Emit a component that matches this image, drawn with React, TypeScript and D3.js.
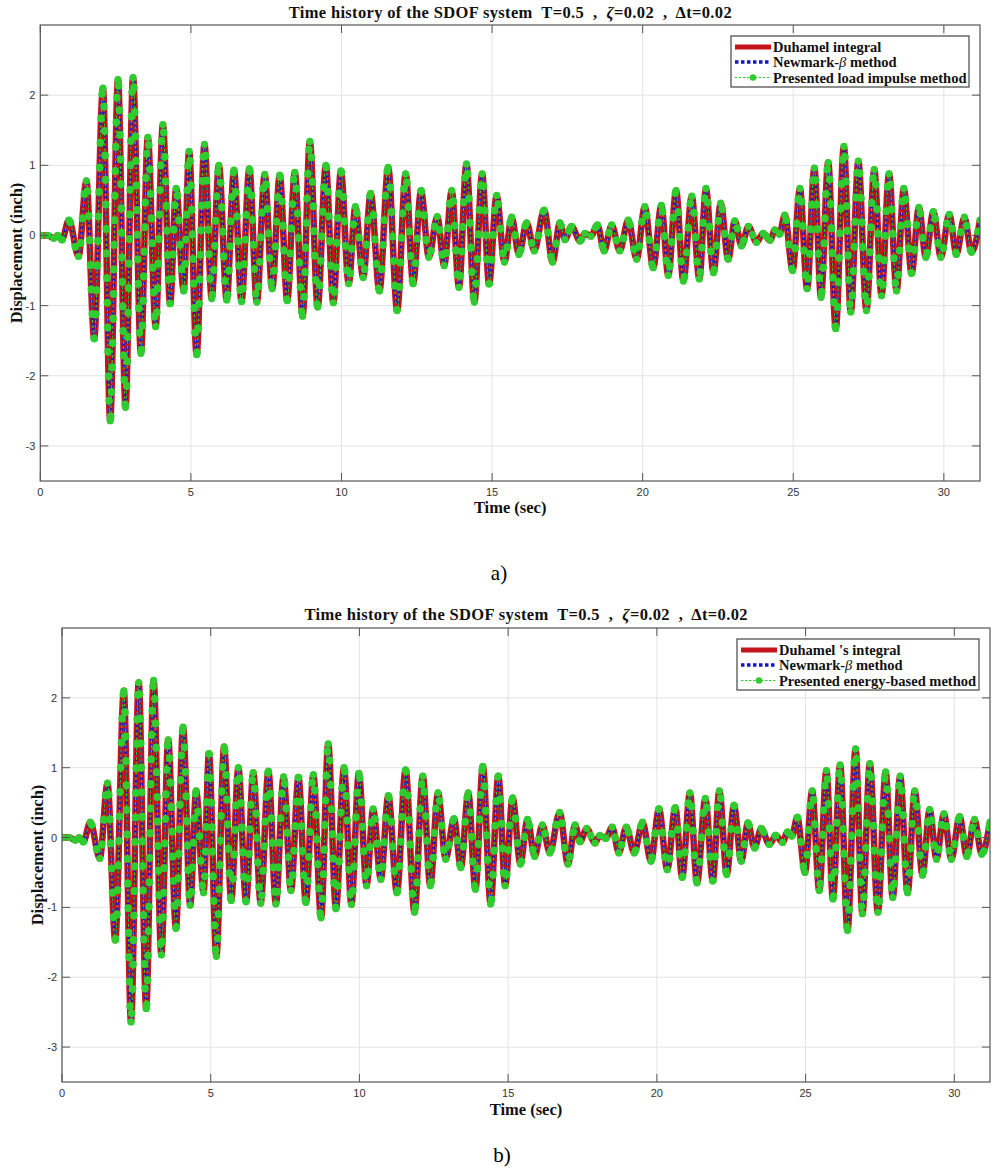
import React from "react";
import * as d3 from "d3";

// Extremes of the displacement response (time in s, displacement in inch)
const peakTime = [
  0, 0.25, 0.45, 0.58, 0.72, 0.95, 1.27, 1.53, 1.79, 2.08, 2.32, 2.58, 2.83, 3.08, 3.34, 3.57, 3.83,
  4.07, 4.31, 4.51, 4.76, 4.94, 5.19, 5.45, 5.69, 5.93, 6.19, 6.43, 6.68, 6.94, 7.19, 7.45, 7.7,
  7.95, 8.2, 8.45, 8.71, 8.95, 9.21, 9.48, 9.73, 9.98, 10.24, 10.46, 10.72, 10.97, 11.26, 11.55,
  11.85, 12.13, 12.38, 12.64, 12.9, 13.18, 13.41, 13.66, 13.9, 14.15, 14.41, 14.67, 14.9, 15.15,
  15.41, 15.65, 15.89, 16.15, 16.4, 16.73, 17.01, 17.25, 17.42, 17.64, 17.92, 18.08, 18.28, 18.5,
  18.72, 18.97, 19.24, 19.52, 19.8, 20.07, 20.35, 20.62, 20.85, 21.11, 21.35, 21.63, 21.88, 22.1,
  22.35, 22.59, 22.84, 23.06, 23.28, 23.51, 23.78, 24.0, 24.23, 24.39, 24.54, 24.72, 24.98, 25.22,
  25.46, 25.7, 25.92, 26.16, 26.41, 26.68, 26.91, 27.16, 27.43, 27.69, 27.93, 28.18, 28.43, 28.67,
  28.93, 29.17, 29.4, 29.65, 29.9, 30.18, 30.42, 30.68, 30.92, 31.2,
];
const peakDisp = [
  0, 0.0, -0.04, 0.0, -0.06, 0.22, -0.3, 0.78, -1.47, 2.1, -2.64, 2.22, -2.45, 2.25, -1.68, 1.4, -1.3,
  1.58, -0.97, 0.67, -0.79, 1.2, -1.7, 1.3, -0.9, 1.0, -0.92, 0.93, -0.94, 0.95, -0.95, 0.87, -0.76,
  0.86, -0.93, 0.9, -1.15, 1.34, -1.02, 1.0, -0.96, 0.92, -0.69, 0.41, -0.6, 0.6, -0.79, 0.97,
  -1.07, 0.88, -0.69, 0.64, -0.31, 0.27, -0.43, 0.64, -0.74, 1.02, -0.95, 0.88, -0.69, 0.57,
  -0.38, 0.26, -0.27, 0.18, -0.22, 0.36, -0.38, 0.18, -0.06, 0.13, -0.08, 0.03, -0.01, 0.15,
  -0.22, 0.15, -0.22, 0.22, -0.34, 0.41, -0.46, 0.43, -0.57, 0.64, -0.65, 0.56, -0.62, 0.67,
  -0.53, 0.46, -0.34, 0.21, -0.15, 0.13, -0.1, 0.03, -0.07, 0.08, 0.02, 0.29, -0.5, 0.67,
  -0.76, 0.96, -0.88, 1.04, -1.33, 1.27, -1.09, 1.06, -1.07, 0.94, -0.86, 0.88, -0.79, 0.67,
  -0.54, 0.4, -0.31, 0.34, -0.31, 0.3, -0.27, 0.26, -0.24, 0.22,
];

const xTicks = [0, 5, 10, 15, 20, 25, 30];
const yTicks = [-3, -2, -1, 0, 1, 2];
const xDomain = [0, 31.2];
const yDomain = [-3.5, 3];

const legendA = ["Duhamel integral", "Newmark-", "Presented load impulse method"];
const legendB = ["Duhamel 's integral", "Newmark-", "Presented energy-based method"];

const RED = "#c4141c";
const BLUE = "#1414c8";
const GREEN = "#2ecc2e";
const SERIF = "'Liberation Serif', 'Times New Roman', serif";
const SANS = "'Liberation Sans', Arial, sans-serif";

type PanelProps = {
  id: string;
  left: number;
  right: number;
  top: number;
  bottom: number;
  titleY: number;
  labels: string[];
  legendW: number;
  yLabelX: number;
  xLabelY: number;
  caption: string;
  captionX: number;
  captionY: number;
};

function Panel(p: PanelProps) {
  const x = d3.scaleLinear().domain(xDomain).range([p.left, p.right]);
  const y = d3.scaleLinear().domain(yDomain).range([p.bottom, p.top]);
  const idx = d3.range(peakTime.length);
  const line = d3
    .line<number>()
    .x((i) => x(peakTime[i]))
    .y((i) => y(peakDisp[i]))
    .curve(d3.curveMonotoneX);
  const d = line(idx) || "";
  const cx = (p.left + p.right) / 2;
  const cy = (p.top + p.bottom) / 2;
  const axisColor = "#555";
  const tickLen = 8;
  const lx = p.right - 11 - p.legendW;
  const ly = p.top + 11;
  const rowY = [ly + 11, ly + 26, ly + 41.5];
  return (
    <g>
      <defs>
        <clipPath id={`clip-${p.id}`}>
          <rect x={p.left} y={p.top} width={p.right - p.left} height={p.bottom - p.top} />
        </clipPath>
      </defs>
      <rect x={p.left} y={p.top} width={p.right - p.left} height={p.bottom - p.top} fill="#fff" />
      {xTicks.map((t) => (
        <line key={`gx${t}`} x1={x(t)} x2={x(t)} y1={p.top} y2={p.bottom} stroke="#e3e3e3" strokeWidth={1} />
      ))}
      {yTicks.map((t) => (
        <line key={`gy${t}`} x1={p.left} x2={p.right} y1={y(t)} y2={y(t)} stroke="#e3e3e3" strokeWidth={1} />
      ))}
      <g clipPath={`url(#clip-${p.id})`}>
        <path d={d} fill="none" stroke={RED} strokeWidth={6.5} strokeLinejoin="round" strokeLinecap="round" />
        <path d={d} fill="none" stroke={BLUE} strokeWidth={2.6} strokeDasharray="3 2.6" />
        <path d={d} fill="none" stroke={GREEN} strokeWidth={1} strokeDasharray="3 2" />
        <path d={d} fill="none" stroke={GREEN} strokeWidth={7.5} strokeLinecap="round" strokeDasharray="0.5 24" />
        {idx.map((i) => (
          <circle key={`pk${i}`} cx={x(peakTime[i])} cy={y(peakDisp[i])} r={3.6} fill={GREEN} />
        ))}
      </g>
      {/* axes box with inward ticks */}
      <rect x={p.left} y={p.top} width={p.right - p.left} height={p.bottom - p.top} fill="none" stroke={axisColor} strokeWidth={1.2} />
      {xTicks.map((t) => (
        <g key={`tx${t}`}>
          <line x1={x(t)} x2={x(t)} y1={p.bottom} y2={p.bottom - tickLen} stroke={axisColor} />
          <line x1={x(t)} x2={x(t)} y1={p.top} y2={p.top + tickLen} stroke={axisColor} />
          <text x={x(t)} y={p.bottom + 15} textAnchor="middle" fontFamily={SANS} fontSize={11} fill="#333">
            {t}
          </text>
        </g>
      ))}
      {yTicks.map((t) => (
        <g key={`ty${t}`}>
          <line x1={p.left} x2={p.left + tickLen} y1={y(t)} y2={y(t)} stroke={axisColor} />
          <line x1={p.right} x2={p.right - tickLen} y1={y(t)} y2={y(t)} stroke={axisColor} />
          <text x={p.left - 5} y={y(t) + 4} textAnchor="end" fontFamily={SANS} fontSize={11} fill="#333">
            {t}
          </text>
        </g>
      ))}
      {/* title */}
      <text
        x={cx}
        y={p.titleY}
        textAnchor="middle"
        fontFamily={SERIF}
        fontWeight="bold"
        fontSize={16.5}
        fill="#111"
        textLength={443}
        lengthAdjust="spacing"
        style={{ whiteSpace: "pre" }}
      >
        {"Time history of the SDOF system  T=0.5  ,  "}
        <tspan fontStyle="italic">ζ</tspan>
        {"=0.02  ,  Δt=0.02"}
      </text>
      <text x={cx} y={p.xLabelY} textAnchor="middle" fontFamily={SERIF} fontWeight="bold" fontSize={16.5} fill="#111">
        Time (sec)
      </text>
      <text transform={`translate(${p.yLabelX},${cy}) rotate(-90)`} textAnchor="middle" fontFamily={SERIF} fontWeight="bold" fontSize={16.5} fill="#111">
        Displacement (inch)
      </text>
      {/* legend */}
      <rect x={lx} y={ly} width={p.legendW} height={51} fill="#fff" stroke="#444" strokeWidth={1.2} />
      <line x1={lx + 4} x2={lx + 40} y1={rowY[0]} y2={rowY[0]} stroke={RED} strokeWidth={5} />
      <line x1={lx + 4} x2={lx + 40} y1={rowY[1]} y2={rowY[1]} stroke={BLUE} strokeWidth={3.5} strokeDasharray="3.5 2.5" />
      <line x1={lx + 4} x2={lx + 40} y1={rowY[2]} y2={rowY[2]} stroke={GREEN} strokeWidth={1.2} strokeDasharray="2.5 1.5" />
      <circle cx={lx + 22} cy={rowY[2]} r={3.2} fill={GREEN} />
      {p.labels.map((lab, i) => (
        <text key={lab} x={lx + 42} y={rowY[i] + 5} fontFamily={SERIF} fontWeight="bold" fontSize={14.5} fill="#111">
          {lab}
          {i === 1 ? (
            <>
              <tspan fontStyle="italic" fontWeight="normal">β</tspan>
              {" method"}
            </>
          ) : null}
        </text>
      ))}
      <text x={p.captionX} y={p.captionY} textAnchor="middle" fontFamily={SERIF} fontSize={21} fill="#000">
        {p.caption}
      </text>
    </g>
  );
}

export default function App() {
  return (
    <svg width={1001} height={1170} style={{ position: "absolute", left: 0, top: 0, background: "#fff" }}>
      <rect width={1001} height={1170} fill="#fff" />
      <Panel
        id="a"
        left={40.3}
        right={980}
        top={25}
        bottom={481}
        titleY={17.5}
        labels={legendA}
        legendW={238}
        yLabelX={21.5}
        xLabelY={513}
        caption="a)"
        captionX={499}
        captionY={580}
      />
      <Panel
        id="b"
        left={62}
        right={990}
        top={628}
        bottom={1082}
        titleY={620}
        labels={legendB}
        legendW={242}
        yLabelX={43}
        xLabelY={1115}
        caption="b)"
        captionX={502}
        captionY={1162}
      />
    </svg>
  );
}
